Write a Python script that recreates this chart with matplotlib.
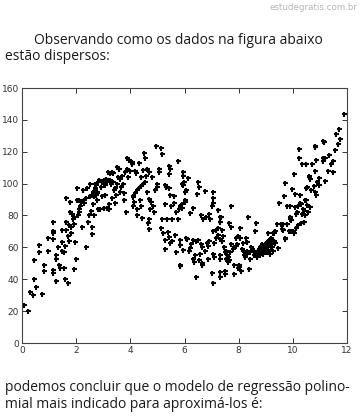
import matplotlib.pyplot as plt

# pontos (x, y), por faixa de x
x0 = [0.06, 0.21, 0.30, 0.42, 0.44, 0.52, 0.74, 0.44, 0.63, 0.64, 0.82, 0.82, 0.97, 0.96]
y0 = [24, 20, 32, 30, 40, 35, 30.5, 52, 61.5, 57, 49, 45, 66, 58]

x1 = [1.13, 1.14, 1.14, 1.14, 1.13, 1.13, 1.27, 1.27, 1.25, 1.33, 1.48, 1.48, 1.49, 1.61, 1.61,
      1.64, 1.63, 1.58, 1.56, 1.60, 1.71, 1.76, 1.78, 1.72, 1.81, 1.82, 1.91, 1.93, 1.94, 1.99,
      1.93, 1.38, 1.42, 1.55, 1.68, 1.75, 1.85, 1.88]
y1 = [76, 70, 69, 65, 46, 44, 55, 39, 53, 60, 63.5, 58, 71, 91, 76,
      76, 71, 61, 47, 40, 37.5, 88.6, 82, 74, 73, 69, 74.7, 79, 63.5, 52.7,
      46.4, 49, 47, 57, 67, 64, 81, 78]

x2 = [2.03, 2.09, 2.18, 2.15, 2.22, 2.25, 2.36, 2.45, 2.46, 2.57, 2.57, 2.50, 2.50, 2.68, 2.73,
      2.76, 2.87, 2.90, 2.97, 2.95, 3.02, 2.05, 2.10, 2.30, 2.35, 2.40, 2.60, 2.62, 2.65, 2.70,
      2.75, 2.80, 2.85, 2.02, 2.12, 2.28, 2.55, 2.65, 2.82, 2.63, 2.72, 2.74, 2.77, 2.78, 2.71]
y2 = [97, 90, 88.6, 86, 72.6, 96, 60, 75.7, 80, 68.6, 72.6, 100, 92, 97, 95,
      89.7, 83.8, 98, 92.4, 101, 102, 80, 84, 90, 91, 97, 93, 95, 92, 100,
      99, 101, 102, 90, 82, 88, 83, 80, 84, 87, 94, 93, 95, 94, 96]

x3 = [3.00, 3.13, 3.25, 3.37, 3.50, 3.19, 3.25, 3.31, 3.37, 3.50, 3.58, 3.80, 3.86, 3.89, 3.94,
      3.98, 3.07, 3.03, 3.23, 3.23, 3.43, 3.40, 3.78, 3.78, 3.84, 3.10, 3.30, 3.55, 3.62, 3.70,
      3.15, 3.45, 3.65, 3.72, 3.92, 3.05, 3.60, 3.34, 3.48]
y3 = [101, 101, 102, 101, 100, 107.5, 106.4, 107.5, 106.4, 110.6, 108.9, 107.5, 109, 116, 115,
      108, 92.8, 84.5, 87, 83.8, 97, 96, 93.9, 89.7, 82, 103, 100, 104, 103, 105,
      85, 88, 98, 100, 104, 99, 95, 91, 93]

x4 = [4.07, 4.05, 4.32, 4.17, 4.21, 4.48, 4.60, 4.70, 4.50, 4.54, 4.95, 4.11, 4.15, 4.11, 4.24,
      4.39, 4.42, 4.69, 4.72, 4.70, 4.76, 4.66, 4.68, 4.85, 4.88, 4.10, 4.17, 4.24, 4.32, 4.39,
      4.46, 4.55, 5.00, 4.98, 4.25, 4.35, 4.62, 4.80, 4.90, 4.40, 4.58]
y4 = [113.8, 112, 112.7, 108, 106.4, 108.6, 109, 107.5, 119, 116.3, 123.6, 91.8, 88.6, 86, 80.3,
      86, 78.2, 90.1, 83.8, 78, 88.6, 75, 71.3, 86, 82, 92, 94, 96, 97, 98.5,
      100, 101, 100, 98, 84, 90, 95, 104, 96, 104, 105]

x5 = [5.15, 5.17, 5.06, 5.04, 5.43, 5.47, 5.41, 5.77, 5.94, 5.96, 5.28, 5.33, 5.42, 5.45, 5.16,
      5.35, 5.53, 5.75, 5.28, 5.49, 5.40, 5.44, 5.46, 5.28, 5.28, 5.84, 5.84, 5.69, 5.96, 5.84,
      5.70, 5.78, 5.85, 5.90, 5.93, 5.90, 5.95, 5.98, 5.90, 5.83, 5.60, 5.62, 5.15, 5.22, 5.55, 5.65]
y5 = [122.5, 118.6, 108.9, 107, 111, 109, 106, 114, 107, 105, 99, 98, 97, 93, 77.6,
      77.6, 77.6, 77.6, 87, 86, 69.8, 66.6, 62.5, 64.6, 58.8, 64.6, 61.5, 57.3, 58.4, 48.5,
      82, 84, 86, 87, 107.5, 100, 99, 101, 84.5, 49, 92, 88, 72, 69, 64, 68]

x6 = [6.12, 6.02, 6.05, 6.02, 6.02, 6.20, 6.33, 6.49, 6.55, 6.47, 6.75, 6.60, 6.70, 6.80, 6.90,
      6.95, 6.05, 6.10, 6.30, 6.42, 6.50, 6.62, 6.66, 6.82, 6.88, 6.20, 6.38, 6.52, 6.30, 6.35,
      6.65, 6.65, 6.85, 6.43, 6.90, 6.15, 6.25, 6.75, 6.58]
y6 = [103.7, 95, 96, 89.7, 88.6, 81.8, 85, 100.8, 98, 93.3, 95.4, 80, 78, 79, 81,
      78, 66, 65, 64.6, 64, 64.6, 62, 60, 63, 61, 59.4, 55, 52, 53, 51,
      50, 49, 53, 41.6, 64, 58, 62, 58, 56]

x7 = [7.07, 7.07, 7.07, 7.00, 7.23, 7.30, 7.32, 7.35, 7.71, 7.66, 7.07, 7.15, 7.18, 7.25, 7.22,
      7.30, 7.38, 7.42, 7.38, 7.10, 7.00, 7.07, 7.31, 7.30, 7.50, 7.48, 7.07, 7.10, 7.30, 7.32,
      7.50, 7.60, 7.55, 7.62, 7.58, 7.65, 7.80, 7.82, 7.90, 7.95, 7.71, 7.84, 7.84, 7.98, 8.00,
      7.90, 7.98, 7.45, 7.52, 7.70, 7.68]
y7 = [95, 90.8, 88, 86, 83.4, 79, 76, 79, 86, 75.5, 70, 66, 71, 72, 68,
      65, 71, 67, 64, 63, 43.7, 37.4, 41.6, 44.7, 45, 43, 56, 54, 55, 53,
      57, 51, 53, 54, 55, 52, 59, 60, 61, 62, 72.9, 49, 43, 47, 49,
      66, 67, 60, 58, 62, 57]

x8 = [8.05, 8.36, 8.59, 8.11, 8.20, 8.25, 8.30, 8.18, 8.38, 8.30, 8.28, 8.32, 8.45, 8.50, 8.55,
      8.60, 8.65, 8.58, 8.42, 8.40, 8.64, 8.02, 8.10, 8.72, 8.78, 8.82, 8.88, 8.92, 8.95, 8.85,
      8.80, 8.90, 8.98, 8.70, 8.75, 8.68, 8.62, 8.05, 8.15]
y8 = [72.4, 78.8, 70.5, 59, 55, 54, 56, 57, 46.5, 63.5, 66, 58, 60, 59, 58,
      57, 56, 55, 57, 53, 75, 48, 45, 58, 60, 57, 59, 61, 58, 62,
      55, 56, 60, 58, 59, 54, 57, 66, 63]

x9 = [9.00, 9.05, 9.10, 9.15, 9.20, 9.10, 9.25, 9.30, 9.35, 9.10, 9.15, 9.20, 9.35, 9.30, 9.47,
      9.50, 9.60, 9.65, 9.72, 9.72, 9.70, 9.68, 9.90, 9.78, 9.90, 9.92, 9.88, 9.95, 9.96, 9.05,
      9.12, 9.18, 9.22, 9.28, 9.42, 9.55, 9.62, 9.80, 9.85, 9.02, 9.08, 9.14, 9.25]
y9 = [59, 61, 63, 58, 60, 69, 69, 69, 70, 64, 65, 62, 63, 64, 59.4,
      87.6, 71.5, 71, 65, 66, 100.2, 92.4, 86, 86, 78, 77, 79, 70, 96.6, 57,
      62, 66, 60, 64, 74.6, 74.6, 74.6, 74.6, 70, 63, 61, 56, 58]

x10 = [10.05, 10.08, 10.23, 10.23, 10.33, 10.48, 10.70, 10.86, 10.50, 10.52, 10.60, 10.62, 10.58,
       10.98, 10.97, 10.78, 10.86, 10.67, 10.27, 10.45, 10.50, 10.52, 10.62, 10.30, 10.25, 10.20,
       10.07, 10.10, 10.15, 10.35, 10.40, 10.45, 10.42, 10.30, 10.20, 10.00, 10.05, 10.12, 10.38,
       10.55, 10.80, 10.90, 10.82]
y10 = [106.3, 93.3, 122, 116, 112, 112, 112.5, 115, 97, 98, 104, 103, 105,
       103.5, 99.2, 98.8, 93, 96, 93, 89.8, 90, 86.6, 85.5, 87, 88, 86,
       85.5, 81, 82, 81, 83, 80, 76, 75, 74, 70, 69, 72, 84,
       82, 95, 101, 108]

x11 = [11.13, 11.15, 10.80, 10.82, 11.10, 11.20, 11.10, 11.50, 11.48, 11.20, 11.89, 11.71, 11.60,
       11.75, 11.68, 11.30, 11.40, 11.35, 11.55]
y11 = [127, 126, 123.5, 123, 116, 116, 114, 114, 107.5, 101.7, 143.7, 134, 131,
       128, 124.6, 108, 112, 118, 121]

xs = x0 + x1 + x2 + x3 + x4 + x5 + x6 + x7 + x8 + x9 + x10 + x11
ys = y0 + y1 + y2 + y3 + y4 + y5 + y6 + y7 + y8 + y9 + y10 + y11

xticks = [0, 2, 4, 6, 8, 10, 12]
yticks = [0, 20, 40, 60, 80, 100, 120, 140, 160]

fig = plt.figure(figsize=(3.64, 4.19), dpi=100)
fig.patch.set_facecolor("white")

ax = fig.add_axes([22 / 364, 76 / 419, 325 / 364, 255 / 419])
ax.plot(xs, ys, linestyle="none", marker="+", markersize=3.6, markeredgewidth=1.5, color="black")
ax.set_xlim(0, 12)
ax.set_ylim(0, 160)
ax.set_xticks(xticks)
ax.set_yticks(yticks)
ax.tick_params(direction="in", length=3.5, width=0.7, top=True, right=True,
               labelsize=6.5, pad=2, colors="#333333")
for s in ax.spines.values():
    s.set_linewidth(0.8)
    s.set_color("#444444")

txt = dict(family="Open Sans", fontsize=10, color="#1a1a1a")
fig.text(34 / 364, 1 - 40 / 419, "Observando como os dados na figura abaixo", va="center", **txt)
fig.text(5 / 364, 1 - 57 / 419, "estão dispersos:", va="center", **txt)
fig.text(5 / 364, 1 - 387 / 419, "podemos concluir que o modelo de regressão polino-", va="center", **txt)
fig.text(5 / 364, 1 - 404 / 419, "mial mais indicado para aproximá-los é:", va="center", **txt)
fig.text(357 / 364, 1 - 7 / 419, "estudegratis.com.br", ha="right", va="center",
         family="DejaVu Sans", fontsize=6.3, color="#b5b5bd")

plt.savefig("out.png", dpi=100)
